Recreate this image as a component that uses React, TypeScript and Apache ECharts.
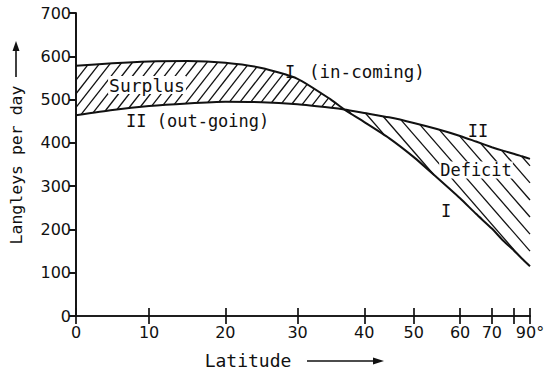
import { useEffect, useRef } from "react";
import * as echarts from "echarts";

// ---- data ----
const LATITUDE = [0, 5, 10, 15, 20, 25, 30, 35, 37, 40, 45, 50, 55, 60, 65, 70, 75, 80, 85, 90];
const INCOMING = [578, 584, 588, 589, 585, 573, 548, 500, 477, 448, 411, 367, 320, 272, 236, 202, 175, 152, 133, 115];
const OUTGOING = [464, 476, 485, 491, 495, 494, 489, 481, 477, 469, 459, 446, 432, 416, 403, 390, 382, 375, 369, 363];

const LAT_TICKS = [0, 10, 20, 30, 40, 50, 60, 70, 80, 90];
const LAT_TICK_LABELS = ["0", "10", "20", "30", "40", "50", "60", "70", "", "90°"];
// the drawn latitude scale (area-weighted, roughly sin of latitude), as fraction of axis length
const LAT_SCALE_STOPS = [0, 0.161, 0.329, 0.488, 0.635, 0.744, 0.846, 0.916, 0.964, 1];

const Y_MIN = 0;
const Y_MAX = 700;
const Y_STEP = 100;

function latPos(lat: number): number {
  for (let i = 0; i < LAT_TICKS.length - 1; i++) {
    const a = LAT_TICKS[i], b = LAT_TICKS[i + 1];
    if (lat <= b) {
      const t = (lat - a) / (b - a);
      return LAT_SCALE_STOPS[i] + t * (LAT_SCALE_STOPS[i + 1] - LAT_SCALE_STOPS[i]);
    }
  }
  return 1;
}

const FONT = "DejaVu Sans";
const MONO = "DejaVu Sans Mono";

type P = number[];

function hatchLines(poly: P[], angleDeg: number, spacing: number, width: number) {
  const a = (angleDeg * Math.PI) / 180;
  const d = [Math.cos(a), -Math.sin(a)];
  const n = [Math.sin(a), Math.cos(a)];
  const proj = poly.map((p) => p[0] * n[0] + p[1] * n[1]);
  const lo = Math.min(...proj), hi = Math.max(...proj);
  const out: any[] = [];
  for (let k = Math.ceil(lo / spacing) * spacing; k <= hi; k += spacing) {
    const pts: P[] = [];
    for (let i = 0; i < poly.length; i++) {
      const p1 = poly[i], p2 = poly[(i + 1) % poly.length];
      const f1 = proj[i] - k, f2 = proj[(i + 1) % poly.length] - k;
      if ((f1 < 0 && f2 >= 0) || (f1 >= 0 && f2 < 0)) {
        const t = f1 / (f1 - f2);
        pts.push([p1[0] + (p2[0] - p1[0]) * t, p1[1] + (p2[1] - p1[1]) * t]);
      }
    }
    pts.sort((u, v) => u[0] * d[0] + u[1] * d[1] - (v[0] * d[0] + v[1] * d[1]));
    for (let j = 0; j + 1 < pts.length; j += 2) {
      out.push({
        type: "line",
        shape: { x1: pts[j][0], y1: pts[j][1], x2: pts[j + 1][0], y2: pts[j + 1][1] },
        style: { stroke: "#111", lineWidth: width },
      });
    }
  }
  return out;
}

export default function App() {
  const ref = useRef<HTMLDivElement>(null);

  useEffect(() => {
    if (!ref.current) return;
    const chart = echarts.init(ref.current, null, { renderer: "svg" });
    const tickPos = LAT_TICKS.map(latPos);
    const axisColor = "#111";
    const lineStyle = { color: axisColor, width: 1.7 };

    const renderHatch = (_params: any, api: any) => {
      const ptsI = LATITUDE.map((lat, i) => api.coord([latPos(lat), INCOMING[i]]));
      const ptsII = LATITUDE.map((lat, i) => api.coord([latPos(lat), OUTGOING[i]]));
      const diff = LATITUDE.map((_, i) => INCOMING[i] - OUTGOING[i]);
      let k = 0;
      while (k < diff.length - 1 && !(diff[k] > 0 && diff[k + 1] <= 0)) k++;
      const t = diff[k] / (diff[k] - diff[k + 1]);
      const cross = [
        ptsI[k][0] + (ptsI[k + 1][0] - ptsI[k][0]) * t,
        ptsI[k][1] + (ptsI[k + 1][1] - ptsI[k][1]) * t,
      ];
      const surplus: P[] = [...ptsI.slice(0, k + 1), cross, ...ptsII.slice(0, k + 1).reverse()];
      const deficit: P[] = [cross, ...ptsII.slice(k + 1), ...ptsI.slice(k + 1).reverse()];
      return {
        type: "group",
        children: [...hatchLines(surplus, 52, 8.4, 1.3), ...hatchLines(deficit, 131, 11.2, 1.3)],
      };
    };

    const text = (t: string, x: number, y: number, size: number, align = "center", bg = false) => ({
      type: "text",
      x,
      y,
      z: 2,
      style: {
        text: t,
        fontSize: size,
        fontFamily: MONO,
        fill: "#111",
        align,
        verticalAlign: "middle",
        ...(bg ? { backgroundColor: "#fff", padding: [0, 1, 0, 1] } : {}),
      },
    });

    chart.setOption({
      animation: false,
      backgroundColor: "#fff",
      grid: { left: 76, right: 21, top: 13, bottom: 55, containLabel: false, outerBoundsMode: "none" },
      xAxis: [
        {
          type: "value",
          min: 0,
          max: 1,
          position: "bottom",
          axisLine: { show: true, lineStyle },
          axisTick: { show: true, inside: true, length: 8, customValues: tickPos, lineStyle },
          axisLabel: {
            show: true,
            customValues: tickPos,
            formatter: (v: number) => {
              const i = tickPos.findIndex((p) => Math.abs(p - v) < 1e-6);
              return i >= 0 ? LAT_TICK_LABELS[i] : "";
            },
            color: "#111",
            fontSize: 16,
            fontFamily: FONT,
            margin: 8,
          },
          splitLine: { show: false },
        },
        {
          type: "value",
          min: 0,
          max: 1,
          position: "top",
          axisLine: { show: true, lineStyle },
          axisTick: { show: true, inside: true, length: 8, customValues: tickPos, lineStyle },
          axisLabel: { show: false },
          splitLine: { show: false },
        },
      ],
      yAxis: [
        {
          type: "value",
          min: Y_MIN,
          max: Y_MAX,
          interval: Y_STEP,
          position: "left",
          axisLine: { show: true, lineStyle },
          axisTick: { show: true, inside: false, length: 6, lineStyle },
          axisLabel: { color: "#111", fontSize: 16, fontFamily: FONT, margin: 5 },
          splitLine: { show: false },
        },
        {
          type: "value",
          min: Y_MIN,
          max: Y_MAX,
          interval: Y_STEP,
          position: "right",
          axisLine: { show: true, lineStyle },
          axisTick: { show: true, inside: true, length: 7, lineStyle },
          axisLabel: { show: false },
          splitLine: { show: false },
        },
      ],
      series: [
        {
          type: "custom",
          name: "hatch",
          xAxisIndex: 0,
          yAxisIndex: 0,
          data: [[0.5, 350]],
          renderItem: renderHatch,
          silent: true,
          z: 1,
        },
        {
          type: "line",
          name: "I (in-coming)",
          data: LATITUDE.map((lat, i) => [latPos(lat), INCOMING[i]]),
          showSymbol: false,
          smooth: 0.2,
          lineStyle: { color: "#111", width: 2 },
          z: 3,
        },
        {
          type: "line",
          name: "II (out-going)",
          data: LATITUDE.map((lat, i) => [latPos(lat), OUTGOING[i]]),
          showSymbol: false,
          smooth: 0.2,
          lineStyle: { color: "#111", width: 2 },
          z: 3,
        },
      ],
      graphic: {
        elements: [
          text("Surplus", 147, 85, 18, "center", true),
          text("I", 290, 72, 17),
          text("(in-coming)", 309, 72, 17.5, "left"),
          text("II (out-going)", 126, 121, 17, "left"),
          text("II", 478, 131, 17),
          text("Deficit", 476, 170, 17, "center", true),
          text("I", 446, 211, 17),
          text("Latitude", 248, 360, 18),
          {
            type: "line",
            shape: { x1: 307, y1: 361, x2: 378, y2: 361 },
            style: { stroke: "#111", lineWidth: 1.6 },
          },
          {
            type: "polygon",
            shape: { points: [[384, 361], [373, 357.5], [373, 364.5]] },
            style: { fill: "#111" },
          },
          {
            type: "text",
            x: 16,
            y: 165,
            rotation: Math.PI / 2,
            style: {
              text: "Langleys per day",
              fontSize: 16.5,
              fontFamily: MONO,
              fill: "#111",
              align: "center",
              verticalAlign: "middle",
            },
          },
          {
            type: "line",
            shape: { x1: 16, y1: 77, x2: 16, y2: 48 },
            style: { stroke: "#111", lineWidth: 1.6 },
          },
          {
            type: "polygon",
            shape: { points: [[16, 41], [12.5, 51], [19.5, 51]] },
            style: { fill: "#111" },
          },
        ],
      },
    });
    return () => chart.dispose();
  }, []);

  return <div ref={ref} style={{ position: "fixed", left: 0, top: 0, width: 551, height: 371 }} />;
}
